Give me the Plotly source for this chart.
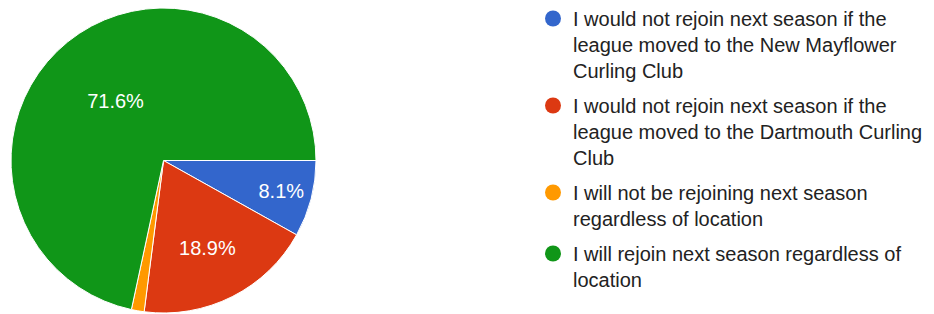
import plotly.graph_objects as go

labels = [
    "I would not rejoin next season if the<br>league moved to the New Mayflower<br>Curling Club",
    "I would not rejoin next season if the<br>league moved to the Dartmouth Curling<br>Club",
    "I will not be rejoining next season<br>regardless of location",
    "I will rejoin next season regardless of<br>location",
]
values = [6, 14, 1, 53]
colors = ["#3366cc", "#dc3912", "#ff9900", "#109618"]
show_label = [True, True, False, True]

W, H = 934, 314
fig = go.Figure()
fig.add_trace(go.Pie(
    labels=labels,
    values=values,
    sort=False,
    direction="clockwise",
    rotation=90,
    marker=dict(colors=colors, line=dict(color="white", width=1)),
    texttemplate=["%{percent:.1%}" if s else "" for s in show_label],
    textposition="inside",
    insidetextorientation="horizontal",
    insidetextfont=dict(color="white", size=20, family="Liberation Sans, Arial, sans-serif"),
    showlegend=False,
    hoverinfo="skip",
    domain=dict(x=[3 / W, 308 / W], y=[9 / H, 1]),
))
for i, (lab, col) in enumerate(zip(labels, colors)):
    fig.add_trace(go.Scatter(
        x=[None], y=[None], mode="markers", name=lab,
        legendgroup=f"g{i}",
        marker=dict(color=col, size=18, symbol="circle"),
        showlegend=True,
    ))

fig.update_layout(
    width=W, height=H,
    margin=dict(l=0, r=0, t=0, b=0, autoexpand=False),
    paper_bgcolor="white", plot_bgcolor="white",
    xaxis=dict(visible=False), yaxis=dict(visible=False),
    legend=dict(
        x=525 / W, y=1 + 9 / H, xanchor="left", yanchor="top",
        valign="top",
        maxheight=H,
        font=dict(size=20, color="#222222", family="Liberation Sans, Arial, sans-serif"),
        bgcolor="rgba(0,0,0,0)",
        tracegroupgap=6,
    ),
    font=dict(family="Liberation Sans, Arial, sans-serif"),
)
fig.write_html("out.html")
